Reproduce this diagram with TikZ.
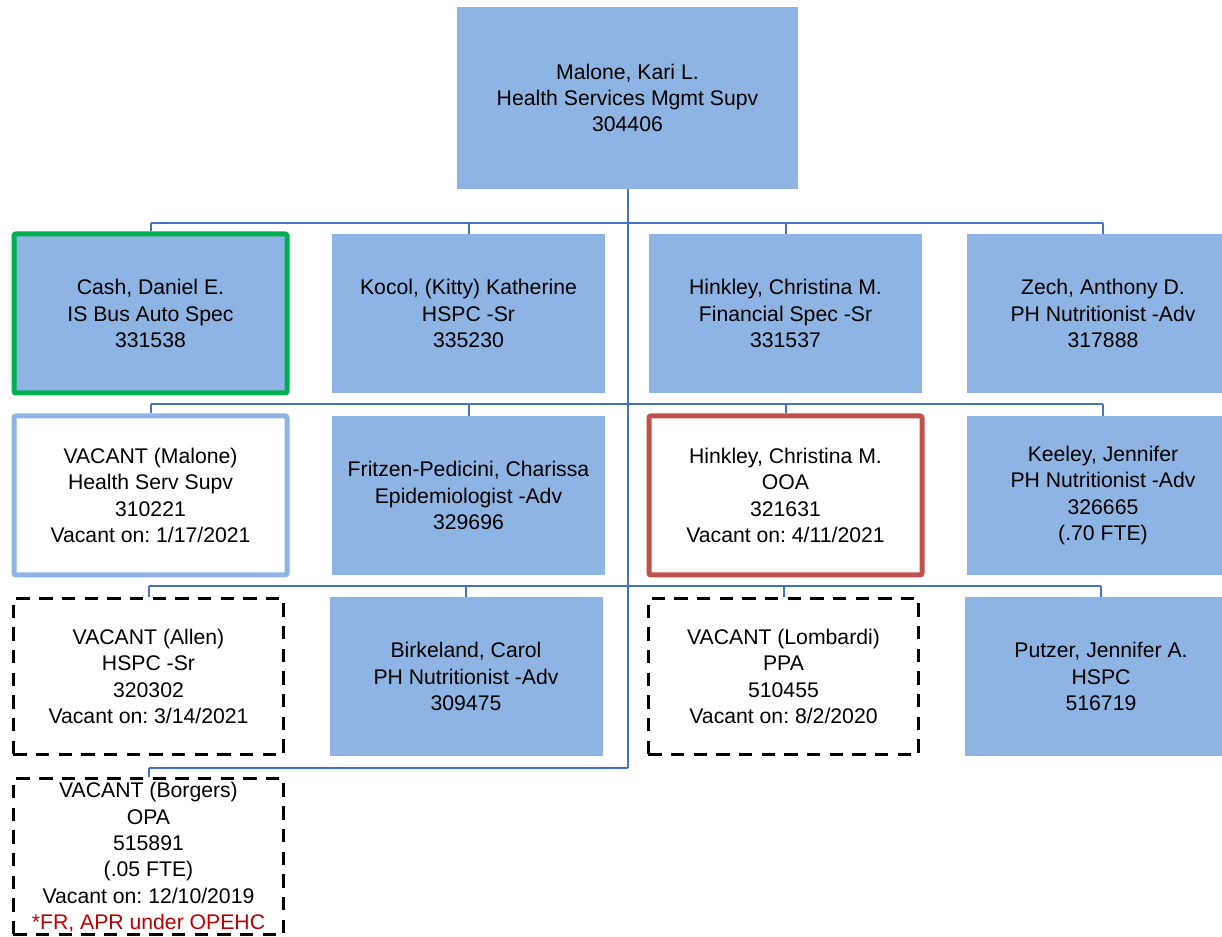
\documentclass[tikz,border=0pt]{standalone}
\usepackage{fontspec}
\setmainfont{Liberation Sans}
\usetikzlibrary{positioning}
\frenchspacing
\definecolor{BoxFill}{HTML}{8EB4E3}
\definecolor{Link}{HTML}{4472C4}
\definecolor{Keep}{HTML}{00B050}
\definecolor{Flag}{HTML}{C0504D}
\definecolor{Note}{HTML}{C00000}
\tikzset{
  post/.style={fill=BoxFill,minimum width=204.75pt,minimum height=119.25pt,align=center,inner sep=0pt,font=\fontsize{15.9}{19.8}\selectfont},
  keep/.style={post,draw=Keep,line width=3.75pt,rounded corners=1.5pt},
  lapse/.style={post,fill=white,draw=BoxFill,line width=3.75pt,rounded corners=1.5pt},
  flag/.style={post,fill=white,draw=Flag,line width=3.75pt,rounded corners=1.5pt},
  vacant/.style={post,fill=none,draw=black,line width=2.3pt,dash pattern=on 10pt off 7pt,minimum width=203pt,minimum height=116.5pt},
  link/.style={draw=Link,line width=1.5pt}
}
\begin{document}
\begin{tikzpicture}[x=0.75pt,y=-0.75pt]
  \useasboundingbox (0,0) rectangle (1222,937);
  % supervisor
  \node[post,minimum width=255.75pt,minimum height=136.5pt] (malone) at (627.5,98) {Malone, Kari L.\\Health Services Mgmt Supv\\304406};
  % first row
  \node[keep] (cash) at (150.5,313.5) {Cash, Daniel E.\\IS Bus Auto Spec\\331538};
  \node[post] (kocol) at (468.5,313.5) {Kocol, (Kitty) Katherine\\HSPC -Sr\\335230};
  \node[post] (hinkley) at (785.5,313.5) {Hinkley, Christina M.\\Financial Spec -Sr\\331537};
  \node[post] (zech) at (1103,313.5) {Zech, Anthony D.\\PH Nutritionist -Adv\\317888};
  % second row
  \node[lapse] (vmalone) at (150.5,495.5) {VACANT (Malone)\\Health Serv Supv\\310221\\Vacant on: 1/17/2021};
  \node[post] (fritzen) at (468.5,495.5) {Fritzen-Pedicini, Charissa\\Epidemiologist -Adv\\329696};
  \node[flag] (ooa) at (785.5,495.5) {Hinkley, Christina M.\\OOA\\321631\\Vacant on: 4/11/2021};
  \node[post] (keeley) at (1103,495.5) {Keeley, Jennifer\\PH Nutritionist -Adv\\326665\\(.70 FTE)};
  % third row
  \node[vacant] (vallen) at (148.5,676.5) {VACANT (Allen)\\HSPC -Sr\\320302\\Vacant on: 3/14/2021};
  \node[post] (birkeland) at (466,676.5) {Birkeland, Carol\\PH Nutritionist -Adv\\309475};
  \node[vacant] (vlombardi) at (783.5,676.5) {VACANT (Lombardi)\\PPA\\510455\\Vacant on: 8/2/2020};
  \node[post] (putzer) at (1101,676.5) {Putzer, Jennifer A.\\HSPC\\516719};
  % fourth row
  \node[vacant] (vborgers) at (148.5,856.5) {\\[-7pt]VACANT (Borgers)\\OPA\\515891\\(.05 FTE)\\Vacant on: 12/10/2019\\\textcolor{Note}{*FR, APR under OPEHC}};
  % connectors
  \coordinate (busA) at (627.5,223);
  \coordinate (busB) at (627.5,404.5);
  \coordinate (busC) at (627.5,586.5);
  \coordinate (busD) at (627.5,768);
  \draw[link] (malone.south) -- (busD);
  \draw[link] (cash.north |- busA) -- (zech.north |- busA);
  \draw[link] (vmalone.north |- busB) -- (keeley.north |- busB);
  \draw[link] (vallen.north |- busC) -- (putzer.north |- busC);
  \draw[link] (vborgers.north |- busD) -- (busD);
  \foreach \n/\b in {cash/busA,kocol/busA,hinkley/busA,zech/busA,
                     vmalone/busB,fritzen/busB,ooa/busB,keeley/busB,
                     vallen/busC,birkeland/busC,vlombardi/busC,putzer/busC,
                     vborgers/busD}
    \draw[link] (\n.north |- \b) -- (\n.north);
\end{tikzpicture}
\end{document}
